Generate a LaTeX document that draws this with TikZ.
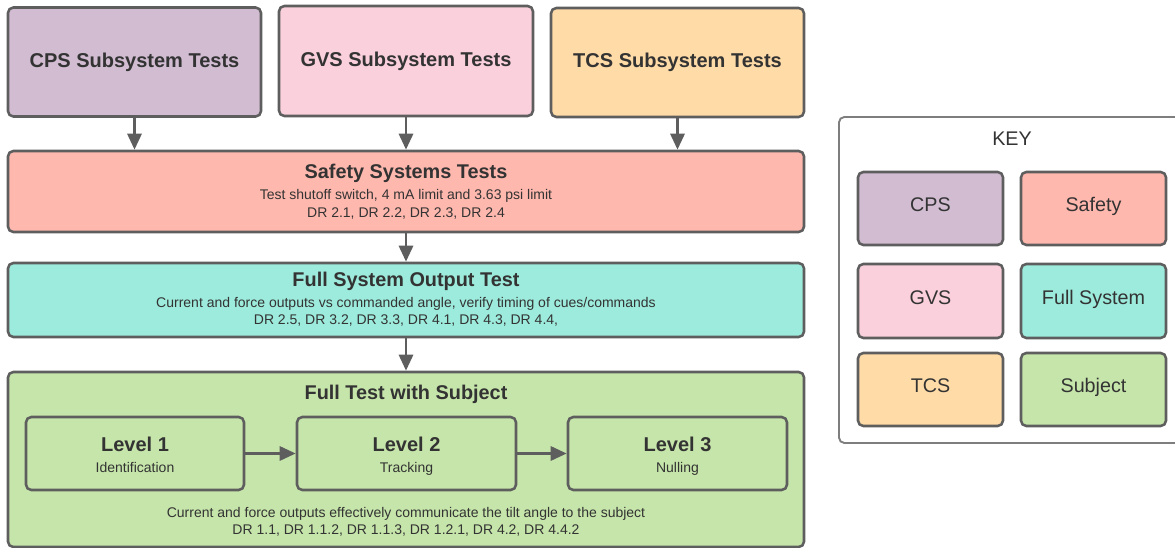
\documentclass[tikz,border=0pt]{standalone}
\usepackage{fontspec}
\setmainfont{Liberation Sans}
\usetikzlibrary{arrows.meta}
\definecolor{edge}{HTML}{5E5E5E}
\definecolor{ink}{HTML}{333333}
\definecolor{cpsfill}{HTML}{D1BCD2}
\definecolor{gvsfill}{HTML}{F9D0DC}
\definecolor{tcsfill}{HTML}{FFDBA8}
\definecolor{safefill}{HTML}{FFB8AE}
\definecolor{fullfill}{HTML}{9DEBDC}
\definecolor{subjfill}{HTML}{C6E5AA}
\tikzset{
  box/.style={draw=edge, line width=1.9pt, rounded corners=4pt, inner sep=0pt},
  keyframe/.style={draw=edge!80, line width=1.4pt, rounded corners=4pt, fill=white, inner sep=0pt},
  txt/.style={text=ink, inner sep=0pt, text height=1em, text depth=0pt},
  bigtitle/.style={txt, font=\fontsize{15pt}{18pt}\selectfont\bfseries},
  midtitle/.style={txt, font=\fontsize{14.9pt}{17pt}\selectfont\bfseries},
  small/.style={txt, font=\fontsize{10.5pt}{12pt}\selectfont},
  keytext/.style={txt, font=\fontsize{14.8pt}{17pt}\selectfont},
  arr/.style={draw=edge, line width=2.2pt, -{Triangle[length=12pt, width=10.5pt]}},
}
\begin{document}
\begin{tikzpicture}[x=0.75pt, y=-0.75pt]
\useasboundingbox (0,0) rectangle (1175,548);

% top row of subsystem tests
\node[box, fill=cpsfill, minimum width=253*0.75pt, minimum height=109*0.75pt] (cps) at (134.5,62) {};
\node[box, fill=gvsfill, minimum width=254*0.75pt, minimum height=110*0.75pt] (gvs) at (406,61) {};
\node[box, fill=tcsfill, minimum width=253*0.75pt, minimum height=109*0.75pt] (tcs) at (677.5,62.5) {};
\node[bigtitle] (cpst) at (134.5,60.5) {CPS Subsystem Tests};
\node[bigtitle] (gvst) at (406,59.5) {GVS Subsystem Tests};
\node[bigtitle] (tcst) at (677.5,61) {TCS Subsystem Tests};

% safety systems
\node[box, fill=safefill, minimum width=796*0.75pt, minimum height=81*0.75pt] (safe) at (406,191.5) {};
\node[midtitle] (safet) at (406,172) {Safety Systems Tests};
\node[small] (safea) at (406,193) {Test shutoff switch, 4 mA limit and 3.63 psi limit};
\node[small] (safeb) at (406,211) {DR 2.1, DR 2.2, DR 2.3, DR 2.4};

% full system output
\node[box, fill=fullfill, minimum width=796*0.75pt, minimum height=74*0.75pt] (full) at (406,300) {};
\node[midtitle] (fullt) at (406,280) {Full System Output Test};
\node[small] (fulla) at (406,301) {Current and force outputs vs commanded angle, verify timing of cues/commands};
\node[small] (fullb) at (406,318) {DR 2.5, DR 3.2, DR 3.3, DR 4.1, DR 4.3, DR 4.4,};

% full test with subject
\node[box, fill=subjfill, minimum width=796*0.75pt, minimum height=175*0.75pt] (subj) at (406,459.5) {};
\node[midtitle] (subjt) at (406,393) {Full Test with Subject};
\node[small] (subja) at (406,511) {Current and force outputs effectively communicate the tilt angle to the subject};
\node[small] (subjb) at (406,528) {DR 1.1, DR 1.1.2, DR 1.1.3, DR 1.2.1, DR 4.2, DR 4.4.2};

\node[box, fill=subjfill, minimum width=218*0.75pt, minimum height=73*0.75pt] (l1) at (135,453.5) {};
\node[box, fill=subjfill, minimum width=219*0.75pt, minimum height=73*0.75pt] (l2) at (406.5,453.5) {};
\node[box, fill=subjfill, minimum width=219*0.75pt, minimum height=73*0.75pt] (l3) at (677.5,453.5) {};
\node[bigtitle] (l1t) at (135,444.5) {Level 1};
\node[small] (l1s) at (135,465.5) {Identification};
\node[bigtitle] (l2t) at (406.5,444.5) {Level 2};
\node[small] (l2s) at (406.5,465.5) {Tracking};
\node[bigtitle] (l3t) at (677.5,444.5) {Level 3};
\node[small] (l3s) at (677.5,465.5) {Nulling};

% connectors
\draw[arr] (cps.south) -- (cps.south |- safe.north);
\draw[arr] (gvs.south) -- (gvs.south |- safe.north);
\draw[arr] (tcs.south) -- (tcs.south |- safe.north);
\draw[arr] (safe.south) -- (full.north);
\draw[arr] (full.south) -- (subj.north);
\draw[arr] (l1.east) -- (l2.west);
\draw[arr] (l2.east) -- (l3.west);

% colour key
\node[keyframe, minimum width=346*0.75pt, minimum height=326*0.75pt] (key) at (1012,280) {};
\node[keytext] (keyt) at (1012,139) {KEY};
\node[box, fill=cpsfill, minimum width=145*0.75pt, minimum height=73*0.75pt] (kcps) at (930.5,208.5) {};
\node[box, fill=safefill, minimum width=145*0.75pt, minimum height=73*0.75pt] (ksafe) at (1093.5,208.5) {};
\node[box, fill=gvsfill, minimum width=145*0.75pt, minimum height=74*0.75pt] (kgvs) at (930.5,301) {};
\node[box, fill=fullfill, minimum width=145*0.75pt, minimum height=74*0.75pt] (kfull) at (1093.5,301) {};
\node[box, fill=tcsfill, minimum width=145*0.75pt, minimum height=73*0.75pt] (ktcs) at (930.5,389.5) {};
\node[box, fill=subjfill, minimum width=145*0.75pt, minimum height=73*0.75pt] (ksubj) at (1093.5,389.5) {};
\node[keytext] (kcpst) at (930.5,205) {CPS};
\node[keytext] (ksafet) at (1093.5,205) {Safety};
\node[keytext] (kgvst) at (930.5,298) {GVS};
\node[keytext] (kfullt) at (1093.5,298) {Full System};
\node[keytext] (ktcst) at (930.5,386) {TCS};
\node[keytext] (ksubjt) at (1093.5,386) {Subject};
\end{tikzpicture}
\end{document}
